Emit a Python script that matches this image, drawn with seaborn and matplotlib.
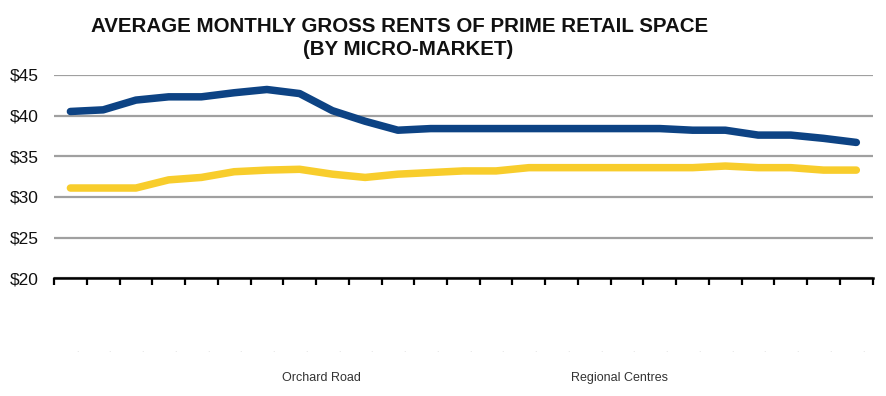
import matplotlib
matplotlib.use("Agg")
import matplotlib.pyplot as plt
import seaborn as sns
import pandas as pd
import numpy as np

sns.set_theme(style="white")
plt.rcParams['font.family'] = ['Liberation Sans', 'DejaVu Sans']

periods = [f"P{i+1}" for i in range(25)]
orchard_road = [40.5, 40.7, 41.9, 42.3, 42.3, 42.8, 43.2, 42.7, 40.6, 39.3,
                38.2, 38.4, 38.4, 38.4, 38.4, 38.4, 38.4, 38.4, 38.4, 38.2,
                38.2, 37.6, 37.6, 37.2, 36.7]
regional_centres = [31.1, 31.1, 31.1, 32.1, 32.4, 33.1, 33.3, 33.4, 32.8, 32.4,
                    32.8, 33.0, 33.2, 33.2, 33.6, 33.6, 33.6, 33.6, 33.6, 33.6,
                    33.8, 33.6, 33.6, 33.3, 33.3]
series_names = ["Orchard Road", "Regional Centres"]
y_ticks = [20, 25, 30, 35, 40, 45]
tick_labels = ["·"] * len(periods)

df = pd.DataFrame({"period": periods * 2,
                   "x": list(range(len(periods))) * 2,
                   "rent": orchard_road + regional_centres,
                   "market": [series_names[0]] * 25 + [series_names[1]] * 25})

fig = plt.figure(figsize=(8.86, 3.96), dpi=100)
ax = fig.add_axes([0.061, 0.297, 0.924, 0.514])

palette = {series_names[0]: "#0d4384", series_names[1]: "#f8cd2c"}
sns.lineplot(data=df, x="x", y="rent", hue="market", palette=palette,
             linewidth=5.4, ax=ax, legend=False)
for ln in ax.get_lines():
    ln.set_solid_capstyle("round")
    ln.set_solid_joinstyle("round")

ax.set_xlim(-0.5, len(periods) - 0.5)
ax.set_ylim(20, 45)
ax.set_yticks(y_ticks)
ax.set_yticklabels([f"${v}" for v in y_ticks], fontsize=12.5, color="#111111")
ax.set_xticks(np.arange(-0.5, len(periods), 1.0))
ax.set_xticklabels([])
for i, lab in enumerate(tick_labels):
    ax.text(i + 0.2, -0.365, lab, transform=ax.get_xaxis_transform(),
            fontsize=5, color="#cccccc", ha="center", va="center")
ax.tick_params(axis="x", direction="out", length=5, width=1.6, color="black", bottom=True)
ax.tick_params(axis="y", length=0, pad=11)
ax.grid(axis="y", color="#a0a0a0", linewidth=1.6)
ax.set_axisbelow(True)
for s in ["top", "right", "left"]:
    ax.spines[s].set_visible(False)
ax.spines["bottom"].set_color("black")
ax.spines["bottom"].set_linewidth(1.8)
ax.set_xlabel("")
ax.set_ylabel("")

fig.text(0.451, 0.918, "AVERAGE MONTHLY GROSS RENTS OF PRIME RETAIL SPACE",
         ha="center", va="baseline", fontsize=14.8, fontweight="bold", color="#111111")
fig.text(0.461, 0.861, "(BY MICRO-MARKET)",
         ha="center", va="baseline", fontsize=14.8, fontweight="bold", color="#111111")

fig.text(0.363, 0.046, series_names[0], ha="center", va="center", fontsize=9, color="#333333")
fig.text(0.699, 0.046, series_names[1], ha="center", va="center", fontsize=9, color="#333333")

fig.savefig("out.png", dpi=100)
